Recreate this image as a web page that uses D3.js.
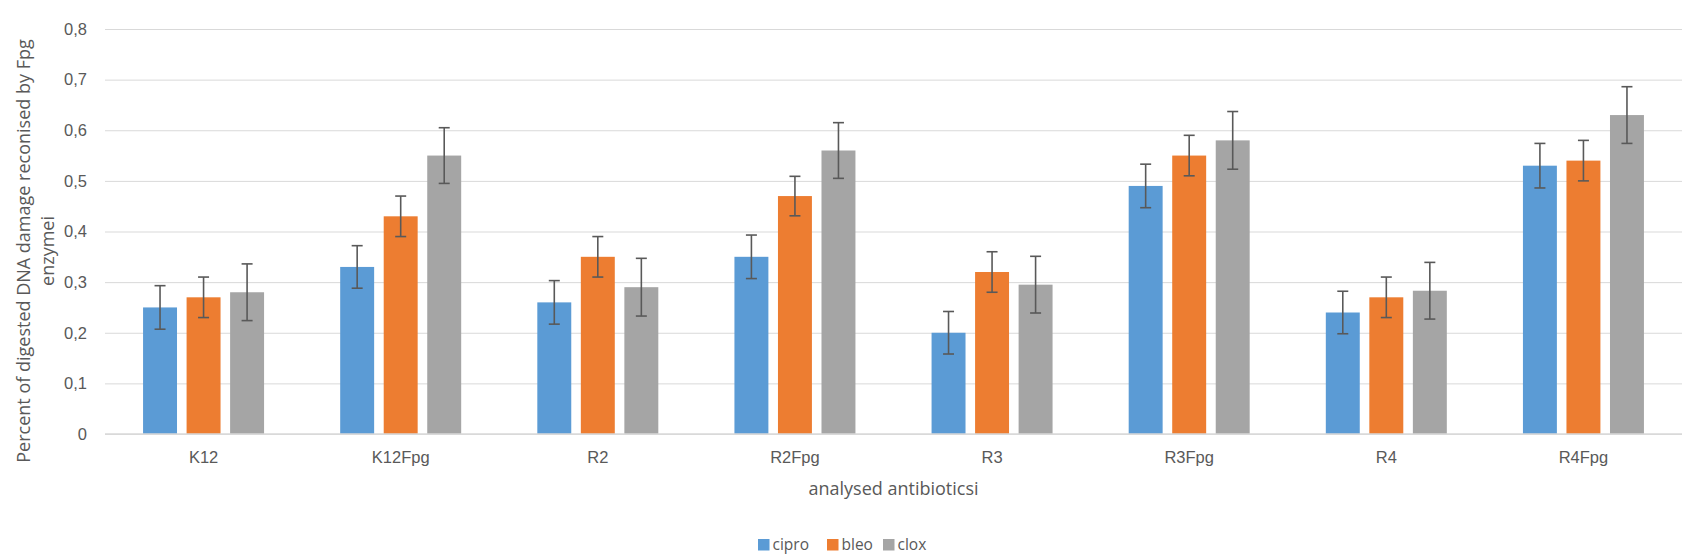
<!DOCTYPE html>
<html>
<head>
<meta charset="utf-8">
<script src="https://cdn.jsdelivr.net/npm/d3@7"></script>
<style>
  html, body { margin: 0; padding: 0; background: #fff; }
  svg { display: block; font-family: "Open Sans", "Liberation Sans", sans-serif; }
</style>
</head>
<body>
<svg id="chart" width="1700" height="556"></svg>
<script>
const categories = ["K12", "K12Fpg", "R2", "R2Fpg", "R3", "R3Fpg", "R4", "R4Fpg"];
const seriesNames = ["cipro", "bleo", "clox"];
const cipro = [0.25, 0.33, 0.26, 0.35, 0.20, 0.49, 0.24, 0.53];
const bleo  = [0.27, 0.43, 0.35, 0.47, 0.32, 0.55, 0.27, 0.54];
const clox  = [0.28, 0.55, 0.29, 0.56, 0.295, 0.58, 0.283, 0.63];
const ciproErr = [0.043, 0.042, 0.043, 0.043, 0.042, 0.043, 0.042, 0.044];
const bleoErr  = [0.040, 0.040, 0.040, 0.039, 0.040, 0.040, 0.040, 0.040];
const cloxErr  = [0.056, 0.055, 0.057, 0.055, 0.056, 0.057, 0.056, 0.056];
const yTicks = [0, 0.1, 0.2, 0.3, 0.4, 0.5, 0.6, 0.7, 0.8];
const colors = ["#5B9BD5", "#ED7D31", "#A5A5A5"];
const yTitle = ["Percent of digested DNA damage reconised by Fpg", "enzymei"];
const xTitle = "analysed antibioticsi";

(function () {
const values = [cipro, bleo, clox];
const errs = [ciproErr, bleoErr, cloxErr];

const svg = d3.select("#chart");
const pLeft = 105, pRight = 1682, pTop = 29, pBottom = 434;

const x0 = d3.scaleBand().domain(categories).range([pLeft, pRight]).paddingInner(0).paddingOuter(0);
const bw = x0.bandwidth();
const groupW = 121;
const x1 = d3.scaleBand().domain(seriesNames).range([(bw - groupW) / 2, (bw + groupW) / 2]).paddingInner(0.22).paddingOuter(0);
const y = d3.scaleLinear().domain([0, 0.8]).range([pBottom, pTop]);

const yAxis = d3.axisLeft(y).tickValues(yTicks).tickSize(-(pRight - pLeft)).tickPadding(18)
  .tickFormat(d => d === 0 ? "0" : d3.format(".1f")(d).replace(".", ","));
const ga = svg.append("g").attr("transform", `translate(${pLeft},0)`).call(yAxis);
ga.select(".domain").remove();
ga.selectAll(".tick line").attr("stroke", "#d9d9d9").attr("stroke-width", 1);
ga.selectAll(".tick text").attr("fill", "#595959").style("font-size", "16.5px");

const data = [];
categories.forEach((c, i) => {
  seriesNames.forEach((s, j) => {
    data.push({ c, s, j, v: values[j][i], e: errs[j][i] });
  });
});

svg.append("g").selectAll("rect").data(data).join("rect")
  .attr("x", d => x0(d.c) + x1(d.s))
  .attr("y", d => y(d.v))
  .attr("width", x1.bandwidth())
  .attr("height", d => y(0) - y(d.v))
  .attr("fill", d => colors[d.j]);

svg.append("line").attr("x1", pLeft).attr("x2", pRight).attr("y1", y(0)).attr("y2", y(0))
  .attr("stroke", "#d9d9d9").attr("stroke-width", 1.5);

const eb = svg.append("g").attr("stroke", "#595959").attr("stroke-width", 1.6);
data.forEach(d => {
  const cx = x0(d.c) + x1(d.s) + x1.bandwidth() / 2;
  eb.append("line").attr("x1", cx).attr("x2", cx).attr("y1", y(d.v + d.e)).attr("y2", y(d.v - d.e));
  eb.append("line").attr("x1", cx - 5.5).attr("x2", cx + 5.5).attr("y1", y(d.v + d.e)).attr("y2", y(d.v + d.e));
  eb.append("line").attr("x1", cx - 5.5).attr("x2", cx + 5.5).attr("y1", y(d.v - d.e)).attr("y2", y(d.v - d.e));
});

const xAxis = d3.axisBottom(x0).tickSize(0).tickPadding(17.5);
const gx = svg.append("g").attr("transform", `translate(0,${pBottom})`).call(xAxis);
gx.select(".domain").remove();
gx.selectAll(".tick text").attr("fill", "#595959").style("font-size", "16.5px");

svg.append("text").attr("x", (pLeft + pRight) / 2).attr("y", 495).attr("text-anchor", "middle")
  .attr("fill", "#595959").style("font-size", "18px").text(xTitle);

const yt = svg.append("text").attr("transform", "translate(0,251) rotate(-90)")
  .attr("text-anchor", "middle").attr("fill", "#595959").style("font-size", "18px");
yt.append("tspan").attr("x", 0).attr("y", 30).text(yTitle[0]);
yt.append("tspan").attr("x", 0).attr("y", 54).text(yTitle[1]);

const legendX = [758, 827, 883];
const lg = svg.append("g");
seriesNames.forEach((s, j) => {
  lg.append("rect").attr("x", legendX[j]).attr("y", 539).attr("width", 11.5).attr("height", 11.5).attr("fill", colors[j]);
  lg.append("text").attr("x", legendX[j] + 14.5).attr("y", 550).attr("fill", "#595959")
    .style("font-size", "15.5px").text(s);
});
})();
</script>
</body>
</html>
